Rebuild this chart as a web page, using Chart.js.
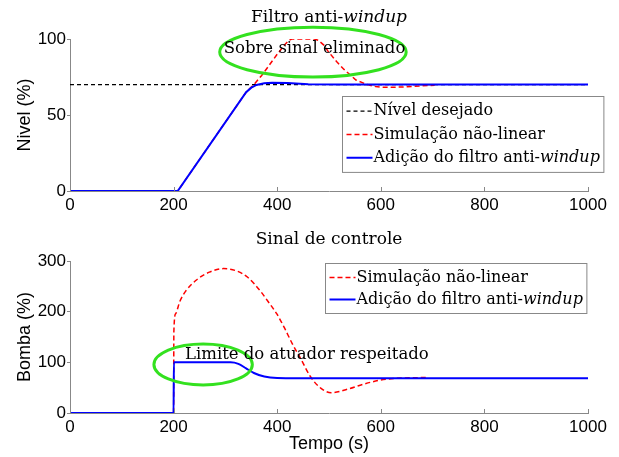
<!DOCTYPE html>
<html>
<head>
<meta charset="utf-8">
<script src="https://cdn.jsdelivr.net/npm/chart.js@4.4.0/dist/chart.umd.min.js"></script>
<style>
  body { margin: 0; background: #fff; }
  #wrap { position: relative; width: 619px; height: 457px; }
  canvas { position: absolute; left: 0; }
</style>
</head>
<body>
<div id="wrap">
  <canvas id="nivelChart" width="619" height="228" style="top:0"></canvas>
  <canvas id="bombaChart" width="619" height="229" style="top:228px"></canvas>
</div>
<script>
'use strict';

// tick labels
const tempoTicks = [0, 200, 400, 600, 800, 1000];
const nivelTicks = [0, 50, 100];
const bombaTicks = [0, 100, 200, 300];

// Nivel: referencia
const tempoDesejado = [0, 1000];
const nivelDesejado = [70, 70];

// Nivel: simulacao nao-linear
const tempoNivelNL = [0, 208, 340, 355, 370, 383, 400, 414, 422, 428, 472, 480, 490, 498, 515, 529, 552, 574, 590, 601, 620, 640, 680, 704];
const nivelNL = [0, 0, 65, 70, 76, 82, 90, 96, 99, 100, 100, 99, 96, 92, 85, 80, 73, 70, 68.7, 68.3, 68.2, 68.4, 69.2, 69.6];

// Nivel: com filtro anti-windup
const tempoNivelAW = [0, 208, 340, 350, 360, 375, 390, 420, 460, 520, 1000];
const nivelAW = [0, 0, 65, 68, 69.8, 70.9, 71.2, 71, 70.3, 70, 70];

// Bomba: simulacao nao-linear
const tempoBombaNL = [0, 200, 200.5, 204, 212, 223, 246, 269, 296, 320, 343, 368, 381, 399, 413, 429, 445, 464, 484, 504, 536, 567, 600, 640, 690];
const bombaNL = [0, 0, 160, 196, 220, 240, 264, 278, 285, 281, 268, 240, 222, 196, 170, 137, 108, 72, 49, 40, 47, 57, 65, 69, 70];

// Bomba: com filtro anti-windup
const tempoBombaAW = [0, 200, 200.5, 310, 325, 340, 355, 375, 400, 440, 1000];
const bombaAW = [0, 0, 100, 100, 97, 88, 79, 72, 69, 68.5, 68.5];

const SERIF = '"DejaVu Serif", "Liberation Serif", serif';
const SANS = '"Liberation Sans", Arial, sans-serif';

function pts(xs, ys) {
  return xs.map((x, i) => ({ x: x, y: ys[i] }));
}

function drawRich(ctx, parts, x, y, size, align) {
  const widths = parts.map(p => {
    ctx.font = (p[1] ? 'italic ' : '') + size + 'px ' + SERIF;
    return ctx.measureText(p[0]).width;
  });
  const total = widths.reduce((a, b) => a + b, 0);
  let cx = align === 'center' ? x - total / 2 : x;
  ctx.textAlign = 'left';
  ctx.textBaseline = 'middle';
  ctx.fillStyle = '#000';
  parts.forEach((p, i) => {
    ctx.font = (p[1] ? 'italic ' : '') + size + 'px ' + SERIF;
    ctx.fillText(p[0], cx, y);
    cx += widths[i];
  });
  return total;
}

function richWidth(ctx, parts, size) {
  let w = 0;
  parts.forEach(p => {
    ctx.font = (p[1] ? 'italic ' : '') + size + 'px ' + SERIF;
    w += ctx.measureText(p[0]).width;
  });
  return w;
}

// titulo, elipse verde, nota e legenda desenhados por cima
function makeOverlay(cfg) {
  return {
    id: 'overlay',
    afterDraw(chart) {
      const ctx = chart.ctx;
      const area = chart.chartArea;
      const xs = chart.scales.x, ys = chart.scales.y;
      ctx.save();

      // ticks do eixo x para dentro
      ctx.strokeStyle = '#888';
      ctx.lineWidth = 1;
      tempoTicks.forEach(v => {
        const px = Math.round(xs.getPixelForValue(v)) + 0.5;
        ctx.beginPath();
        ctx.moveTo(px, area.bottom);
        ctx.lineTo(px, area.bottom - 4);
        ctx.stroke();
      });

      drawRich(ctx, cfg.title, (area.left + area.right) / 2, area.top - 21, 17, 'center');

      // elipse
      const e = cfg.ellipse;
      const cx = xs.getPixelForValue(e.x), cy = ys.getPixelForValue(e.y);
      const rx = Math.abs(xs.getPixelForValue(e.x + e.rx) - cx);
      const ry = Math.abs(ys.getPixelForValue(e.y + e.ry) - cy);
      ctx.strokeStyle = '#33e11f';
      ctx.lineWidth = 3;
      ctx.beginPath();
      ctx.ellipse(cx, cy, rx, ry, 0, 0, Math.PI * 2);
      ctx.stroke();

      drawRich(ctx, [[cfg.note.text, false]], xs.getPixelForValue(cfg.note.x), ys.getPixelForValue(cfg.note.y), 16.5, cfg.note.align);

      // legenda
      const lg = cfg.legend;
      const items = lg.items;
      let tw = 0;
      items.forEach(it => { tw = Math.max(tw, richWidth(ctx, it.label, 16)); });
      const boxW = 4 + 26 + 1 + tw + 4;
      const rowH = lg.rowH;
      const boxH = rowH * items.length + 6;
      const bx = Math.round(area.right + lg.dx - boxW) + 0.5;
      const by = Math.round(area.top + lg.dy) + 0.5;
      ctx.fillStyle = '#fff';
      ctx.fillRect(bx, by, boxW, boxH);
      ctx.strokeStyle = '#888';
      ctx.lineWidth = 1;
      ctx.strokeRect(bx, by, boxW, boxH);
      items.forEach((it, i) => {
        const ds = chart.data.datasets[it.ds];
        const ry2 = by + 3 + rowH * (i + 0.5);
        ctx.strokeStyle = ds.borderColor;
        ctx.lineWidth = ds.borderWidth;
        ctx.setLineDash(ds.borderDash || []);
        ctx.beginPath();
        ctx.moveTo(bx + 4, ry2);
        ctx.lineTo(bx + 30, ry2);
        ctx.stroke();
        ctx.setLineDash([]);
        drawRich(ctx, it.label, bx + 31, ry2, 16, 'left');
      });

      ctx.restore();
    }
  };
}

function xScale(withTitle) {
  return {
    type: 'linear',
    min: 0,
    max: 1000,
    afterBuildTicks: s => { s.ticks = tempoTicks.map(v => ({ value: v })); },
    afterFit: s => { s.height = withTitle ? 44 : 37; },
    grid: { display: false, drawTicks: false },
    border: { display: true, color: '#888', width: 1 },
    ticks: {
      padding: 4, color: '#000', font: { family: SANS, size: 17 }, maxRotation: 0, autoSkip: false,
      callback: v => String(v)
    },
    title: {
      display: withTitle,
      text: 'Tempo (s)',
      color: '#000',
      font: { family: SANS, size: 18 },
      padding: { top: 0, bottom: 2 }
    }
  };
}

function yScale(max, tickList, label) {
  return {
    type: 'linear',
    min: 0,
    max: max,
    afterBuildTicks: s => { s.ticks = tickList.map(v => ({ value: v })); },
    afterFit: s => { s.width = 70; },
    grid: { drawOnChartArea: false, drawTicks: true, tickLength: 3, color: '#888' },
    border: { display: true, color: '#888', width: 1 },
    ticks: { padding: 1, color: '#000', font: { family: SANS, size: 17 }, callback: v => String(v) },
    title: {
      display: true,
      text: label,
      color: '#000',
      font: { family: SANS, size: 18 },
      padding: { top: 14, bottom: 0 }
    }
  };
}

const lineRed = { borderColor: '#ff0000', borderWidth: 1.5, borderDash: [5, 3] };
const lineBlue = { borderColor: '#0000ff', borderWidth: 2 };
const lineBlack = { borderColor: '#000000', borderWidth: 1.3, borderDash: [4, 3] };

const common = {
  responsive: false,
  animation: false,
  devicePixelRatio: 1,
  parsing: false,
  elements: { point: { radius: 0 }, line: { tension: 0, fill: false } },
  plugins: { legend: { display: false }, tooltip: { enabled: false } }
};

new Chart(document.getElementById('nivelChart').getContext('2d'), {
  type: 'line',
  data: {
    datasets: [
      Object.assign({ label: 'Nível desejado', data: pts(tempoDesejado, nivelDesejado), order: 2 }, lineBlack),
      Object.assign({ label: 'Simulação não-linear', data: pts(tempoNivelNL, nivelNL), order: 1 }, lineRed),
      Object.assign({ label: 'Adição do filtro anti-windup', data: pts(tempoNivelAW, nivelAW), order: 0 }, lineBlue)
    ]
  },
  options: Object.assign({}, common, {
    layout: { padding: { top: 39, right: 31, left: 0, bottom: 0 } },
    scales: { x: xScale(false), y: yScale(100, nivelTicks, 'Nivel (%)') }
  }),
  plugins: [makeOverlay({
    title: [['Filtro anti-', false], ['windup', true]],
    ellipse: { x: 469, y: 91.4, rx: 180, ry: 16.4 },
    note: { text: 'Sobre sinal eliminado', x: 472, y: 93.4, align: 'center' },
    legend: {
      dx: 15, dy: 57, rowH: 23.3,
      items: [
        { ds: 0, label: [['Nível desejado', false]] },
        { ds: 1, label: [['Simulação não-linear', false]] },
        { ds: 2, label: [['Adição do filtro anti-', false], ['windup', true]] }
      ]
    }
  })]
});

new Chart(document.getElementById('bombaChart').getContext('2d'), {
  type: 'line',
  data: {
    datasets: [
      Object.assign({ label: 'Simulação não-linear', data: pts(tempoBombaNL, bombaNL), order: 1, cubicInterpolationMode: 'monotone' }, lineRed),
      Object.assign({ label: 'Adição do filtro anti-windup', data: pts(tempoBombaAW, bombaAW), order: 0, cubicInterpolationMode: 'monotone' }, lineBlue)
    ]
  },
  options: Object.assign({}, common, {
    layout: { padding: { top: 33, right: 31, left: 0, bottom: 0 } },
    scales: { x: xScale(true), y: yScale(300, bombaTicks, 'Bomba (%)') }
  }),
  plugins: [makeOverlay({
    title: [['Sinal de controle', false]],
    ellipse: { x: 257, y: 95.7, rx: 95, ry: 40.4 },
    note: { text: 'Limite do atuador respeitado', x: 222, y: 116, align: 'left' },
    legend: {
      dx: -2, dy: 2, rowH: 22,
      items: [
        { ds: 0, label: [['Simulação não-linear', false]] },
        { ds: 1, label: [['Adição do filtro anti-', false], ['windup', true]] }
      ]
    }
  })]
});
</script>
</body>
</html>
